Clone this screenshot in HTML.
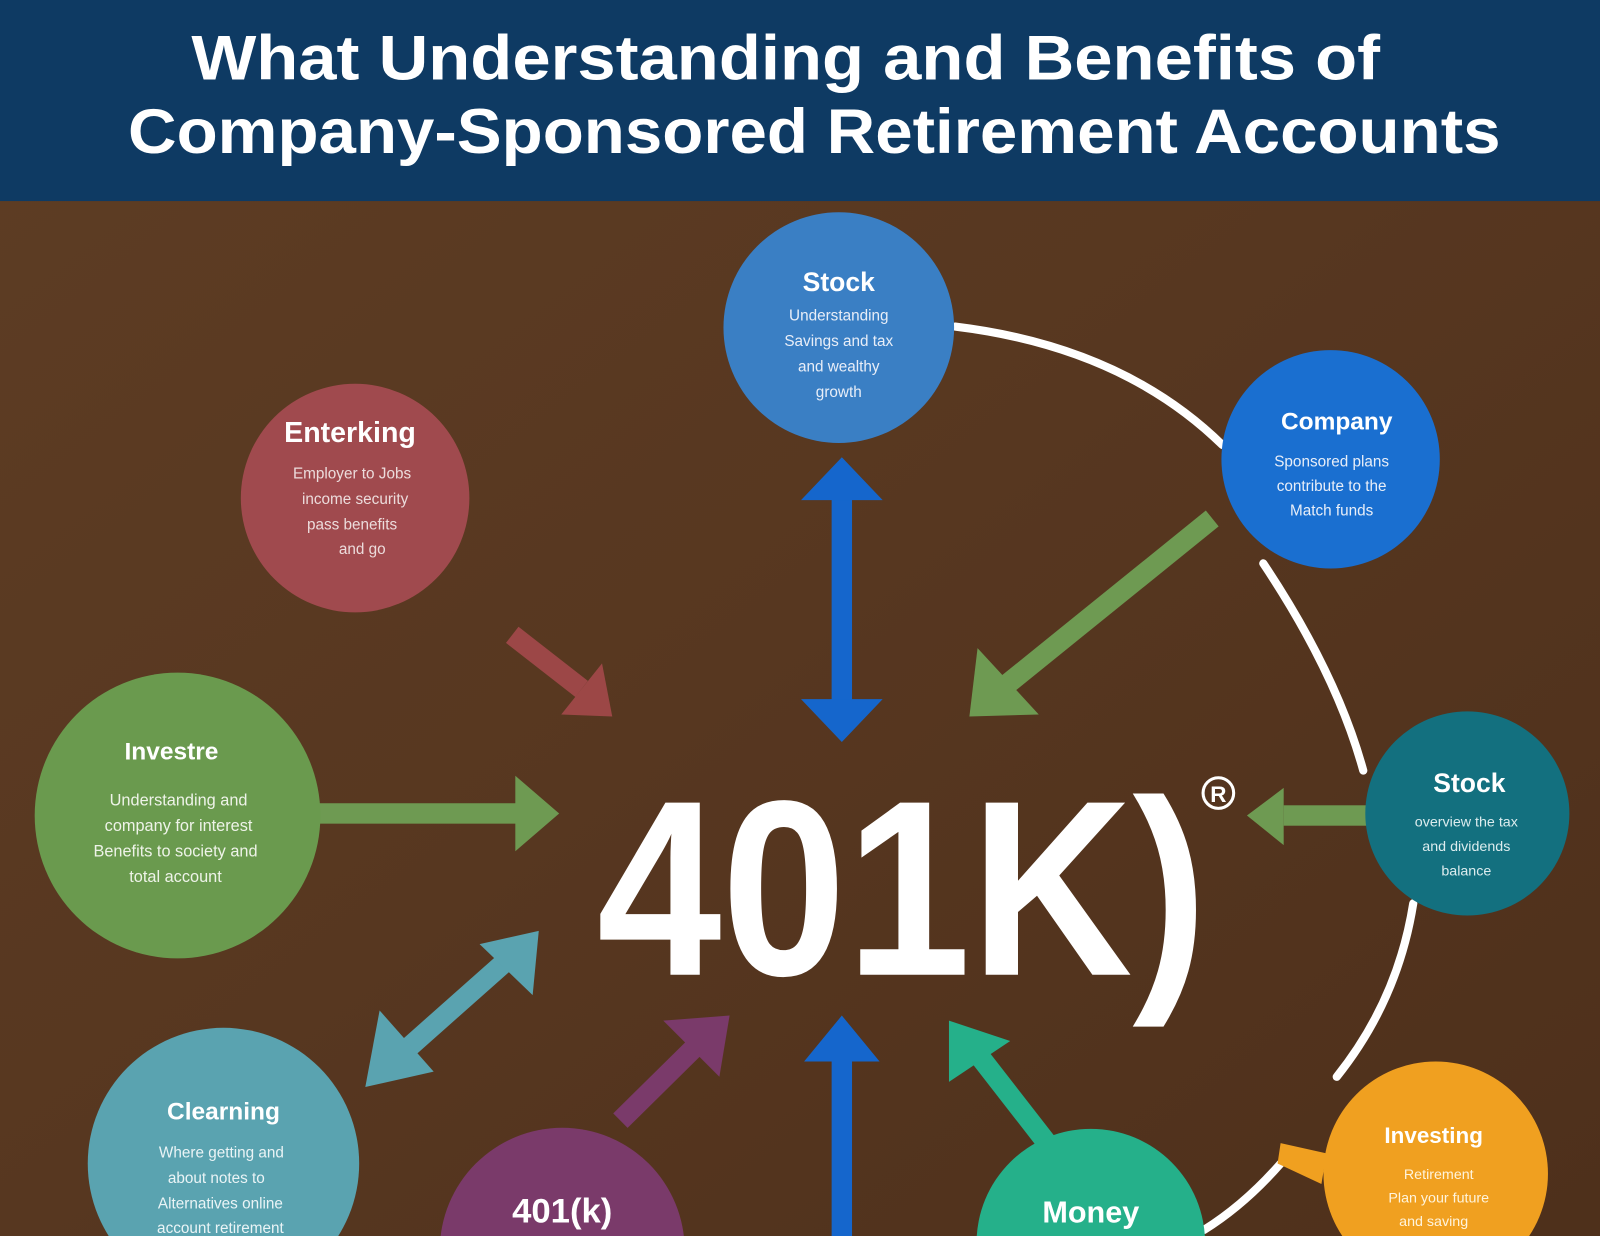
<!DOCTYPE html>
<html><head><meta charset="utf-8"><style>
html,body{margin:0;padding:0;width:1600px;height:1236px;overflow:hidden;background:#5b3b22}
svg{display:block;position:absolute;left:0;top:0}
text{font-family:"Liberation Sans","DejaVu Sans",sans-serif}
</style></head><body>
<svg width="1600" height="1236" viewBox="0 0 1568 1211" preserveAspectRatio="none" xmlns="http://www.w3.org/2000/svg">
<defs>
<linearGradient id="wood" x1="0" y1="0" x2="1" y2="1">
<stop offset="0" stop-color="#5e3d24"/><stop offset="0.5" stop-color="#573720"/><stop offset="1" stop-color="#4e301b"/>
</linearGradient>
</defs>
<rect x="0" y="0" width="1568" height="1211" fill="url(#wood)"/>
<rect x="0" y="0" width="1568" height="197" fill="#0e3a63"/>
<text x="770" y="78" text-anchor="middle" fill="#fff" font-size="62" font-weight="bold" textLength="1165" lengthAdjust="spacingAndGlyphs">What Understanding and  Benefits of</text>
<text x="798" y="150" text-anchor="middle" fill="#fff" font-size="62" font-weight="bold" textLength="1345" lengthAdjust="spacingAndGlyphs">Company-Sponsored Retirement Accounts</text>

<g fill="none" stroke="#fff" stroke-width="8" stroke-linecap="round">
<path d="M936,320 Q1100,340 1198,436"/>
<path d="M1238,552 Q1310,660 1336,755"/>
<path d="M1385,885 Q1370,980 1310,1055"/>
<path d="M1255,1140 Q1220,1180 1180,1205"/>
</g>

<g>
<rect x="815" y="485" width="20" height="210" fill="#1566cc"/>
<polygon points="825,448 865,490 785,490" fill="#1566cc"/>
<polygon points="825,727 865,685 785,685" fill="#1566cc"/>
<rect x="815" y="1035" width="20" height="180" fill="#1566cc"/>
<polygon points="825,995 862,1040 788,1040" fill="#1566cc"/>
<line x1="1188" y1="508" x2="985" y2="672" stroke="#6e9a52" stroke-width="20"/>
<polygon points="950,702 958,635 1018,700" fill="#6e9a52"/>
<line x1="502" y1="622" x2="570" y2="675" stroke="#a84a4e" stroke-width="20" opacity="0.85"/>
<polygon points="600,702 590,650 550,700" fill="#a84a4e" opacity="0.85"/>
<rect x="312" y="787" width="200" height="20" fill="#6e9a52"/>
<polygon points="548,797 505,760 505,834" fill="#6e9a52"/>
<rect x="1258" y="789" width="82" height="20" fill="#6e9a52"/>
<polygon points="1222,799 1258,772 1258,828" fill="#6e9a52"/>
<line x1="500" y1="938" x2="385" y2="1040" stroke="#5aa3b0" stroke-width="20"/>
<polygon points="528,912 470,925 522,975" fill="#5aa3b0"/>
<polygon points="358,1065 372,990 425,1050" fill="#5aa3b0"/>
<line x1="608" y1="1098" x2="685" y2="1022" stroke="#7a3a6a" stroke-width="20"/>
<polygon points="715,995 650,1000 705,1055" fill="#7a3a6a"/>
<line x1="1030" y1="1125" x2="960" y2="1035" stroke="#25b08a" stroke-width="20"/>
<polygon points="930,1000 930,1060 990,1020" fill="#25b08a"/>
<polygon points="1255,1120 1300,1130 1295,1160 1252,1140" fill="#f0a020"/>
</g>

<text x="585" y="955" fill="#fff" font-size="245" font-weight="bold" textLength="598" lengthAdjust="spacingAndGlyphs">401K)</text>
<circle cx="1194" cy="777" r="15" fill="none" stroke="#fff" stroke-width="3"/>
<text x="1194" y="786" text-anchor="middle" fill="#fff" font-size="22" font-weight="bold">R</text>

<g font-weight="bold" text-anchor="middle">
<circle cx="822" cy="321" r="113" fill="#3a7fc4"/>
<text x="822" y="285" fill="#fff" font-size="26">Stock</text>
<g font-size="15" font-weight="normal" fill="#e8eef8"><text x="822" y="314">Understanding</text><text x="822" y="339">Savings and tax</text><text x="822" y="364">and wealthy</text><text x="822" y="389">growth</text></g>

<circle cx="1304" cy="450" r="107" fill="#1a6fd0"/>
<text x="1310" y="421" fill="#fff" font-size="24">Company</text>
<g font-size="15" font-weight="normal" fill="#e8eef8"><text x="1305" y="457">Sponsored plans</text><text x="1305" y="481">contribute to the</text><text x="1305" y="505">Match funds</text></g>

<circle cx="348" cy="488" r="112" fill="#a04a4e"/>
<text x="343" y="433" fill="#fff" font-size="28">Enterking</text>
<g font-size="15" font-weight="normal" fill="#ecdcdc"><text x="345" y="469">Employer to Jobs</text><text x="348" y="494">income security</text><text x="345" y="519">pass benefits</text><text x="355" y="543">and go</text></g>

<circle cx="174" cy="799" r="140" fill="#6a9a4e"/>
<text x="168" y="744" fill="#fff" font-size="24">Investre</text>
<g font-size="16" font-weight="normal" fill="#eef3e8"><text x="175" y="789">Understanding and</text><text x="175" y="814">company for interest</text><text x="172" y="839">Benefits to society and</text><text x="172" y="864">total account</text></g>

<circle cx="1438" cy="797" r="100" fill="#13707f"/>
<text x="1440" y="776" fill="#fff" font-size="26">Stock</text>
<g font-size="14" font-weight="normal" fill="#dcecee"><text x="1437" y="810">overview the tax</text><text x="1437" y="834">and dividends</text><text x="1437" y="858">balance</text></g>

<circle cx="219" cy="1140" r="133" fill="#5aa3b0"/>
<text x="219" y="1097" fill="#fff" font-size="24">Clearning</text>
<g font-size="15" font-weight="normal" fill="#eaf4f6"><text x="217" y="1134">Where getting and</text><text x="212" y="1159">about notes to</text><text x="216" y="1184">Alternatives online</text><text x="216" y="1208">account retirement</text></g>

<circle cx="551" cy="1225" r="120" fill="#7a3a6a"/>
<text x="551" y="1198" fill="#fff" font-size="34">401(k)</text>

<circle cx="1069" cy="1218" r="112" fill="#25b08a"/>
<text x="1069" y="1198" fill="#fff" font-size="30">Money</text>

<circle cx="1407" cy="1150" r="110" fill="#f0a020"/>
<text x="1405" y="1120" fill="#fff" font-size="22">Investing</text>
<g font-size="14" font-weight="normal" fill="#fff4dc"><text x="1410" y="1155">Retirement</text><text x="1410" y="1178">Plan your future</text><text x="1405" y="1201">and saving</text></g>
</g>
</svg>
</body></html>
